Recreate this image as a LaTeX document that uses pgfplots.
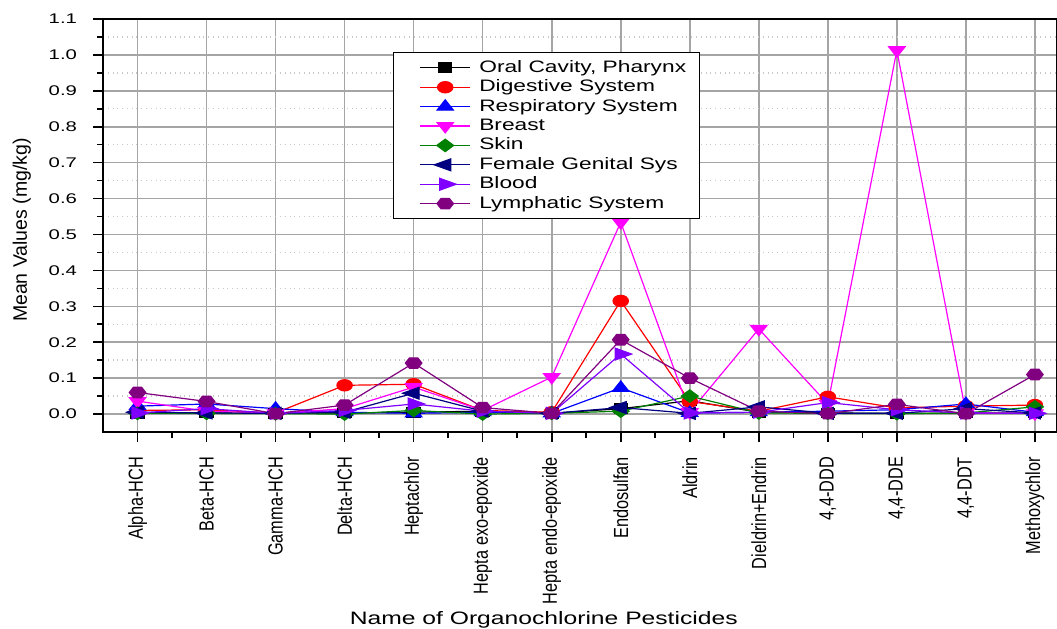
\documentclass[border=0pt]{standalone}
\usepackage{pgfplots}
\usepackage{pgfplotstable}
\pgfplotsset{compat=1.18}
\usepackage{fontspec}
\setmainfont{Liberation Sans}
\newfontfamily\hfont[FakeStretch=1.37]{Liberation Sans}
\newfontfamily\ytfont[FakeStretch=1.45]{Liberation Sans}
\newfontfamily\xtfont[FakeStretch=0.8]{Liberation Sans}

\definecolor{cgreen}{RGB}{0,128,0}
\definecolor{cnavy}{RGB}{0,0,128}
\definecolor{cviolet}{RGB}{128,0,255}
\definecolor{cpurple}{RGB}{128,0,128}
\definecolor{cmag}{RGB}{255,0,255}
\definecolor{gridgray}{RGB}{165,165,165}
\definecolor{mgridgray}{RGB}{200,200,200}

\pgfdeclareplotmark{hexagon*}{%
  \pgfpathmoveto{\pgfqpointpolar{0}{\pgfplotmarksize}}%
  \pgfpathlineto{\pgfqpointpolar{60}{\pgfplotmarksize}}%
  \pgfpathlineto{\pgfqpointpolar{120}{\pgfplotmarksize}}%
  \pgfpathlineto{\pgfqpointpolar{180}{\pgfplotmarksize}}%
  \pgfpathlineto{\pgfqpointpolar{240}{\pgfplotmarksize}}%
  \pgfpathlineto{\pgfqpointpolar{300}{\pgfplotmarksize}}%
  \pgfpathclose
  \pgfusepathqfillstroke}

\pgfplotstableread{
x oral dig resp breast skin fem blood lymph
0  0.002 0.010 0.022 0.036 0.002 0.005 0.003 0.060
1  0.003 0.012 0.028 0.008 0.002 0.003 0.015 0.035
2  0.002 0.003 0.015 0.002 0.001 0.002 0.002 0.001
3  0.003 0.080 0.005 0.015 0.000 0.005 0.010 0.025
4  0.005 0.083 0.002 0.075 0.010 0.058 0.028 0.142
5  0.008 0.010 0.005 0.010 0.000 0.008 0.008 0.018
6  0.002 0.005 0.002 0.103 0.002 0.002 0.002 0.002
7  0.015 0.315 0.073 0.534 0.008 0.018 0.167 0.207
8  0.037 0.035 0.003 0.005 0.050 0.002 0.003 0.100
9  0.005 0.008 0.005 0.237 0.003 0.020 0.005 0.008
10 0.003 0.048 0.008 0.028 0.002 0.002 0.032 0.001
11 0.002 0.017 0.012 1.013 0.001 0.002 0.012 0.027
12 0.003 0.022 0.028 0.003 0.003 0.015 0.003 0.001
13 0.003 0.025 0.005 0.002 0.020 0.003 0.002 0.110
}\datatable

\begin{document}
\begin{tikzpicture}
\begin{axis}[
  scale only axis,
  width=477bp, height=206.5bp,
  xmin=-0.5, xmax=13.32, ymin=-0.05, ymax=1.1,
  xtick={0,1,2,3,4,5,6,7,8,9,10,11,12,13},
  xticklabels={Alpha-HCH,Beta-HCH,Gamma-HCH,Delta-HCH,Heptachlor,Hepta exo-epoxide,Hepta endo-epoxide,Endosulfan,Aldrin,Dieldrin+Endrin,{4,4-DDD},{4,4-DDE},{4,4-DDT},Methoxychlor},
  ytick={0,0.1,0.2,0.3,0.4,0.5,0.6,0.7,0.8,0.9,1.0,1.1},
  minor x tick num=1, minor y tick num=1,
  tick align=outside, tick pos=left,
  major tick length=5bp, minor tick length=3bp,
  every tick/.style={black, line width=0.8bp},
  axis line style={black, line width=1bp},
  xmajorgrids, ymajorgrids, yminorgrids,
  major grid style={gridgray, line width=0.8bp},
  minor grid style={mgridgray, dotted, line width=0.7bp},
  /pgf/number format/assume math mode=true,
  yticklabel style={font=\ytfont\fontsize{7bp}{8bp}\selectfont, /pgf/number format/fixed, /pgf/number format/fixed zerofill, /pgf/number format/precision=1},
  yticklabel shift=4.5bp,
  xticklabel style={font=\xtfont\fontsize{10.2bp}{12bp}\selectfont, rotate=90, anchor=east},
  xticklabel shift=4bp,
  ylabel={Mean Values (mg/kg)},
  ylabel style={font=\fontsize{9.75bp}{11bp}\selectfont, at={(axis description cs:-0.085,0.489)}, anchor=center},
  xlabel={Name of Organochlorine Pesticides},
  xlabel style={font=\hfont\fontsize{9bp}{11bp}\selectfont, at={(axis description cs:0.462,-0.455)}, anchor=center},
  legend style={at={(axis description cs:0.304,0.920)}, anchor=north west, draw=black, line width=0.6bp,
    font=\hfont\fontsize{8.3bp}{9.8bp}\selectfont, inner xsep=5bp, inner ysep=3bp, row sep=0.5bp,
    nodes={inner ysep=0.5bp, inner xsep=1.75bp, text height=6.3bp, text depth=1.9bp}},
  legend cell align=left,
  legend image code/.code={%
    \path (-8bp,0bp) (27.5bp,0bp);
    \draw[mark repeat=2,mark phase=2,#1] plot coordinates {(0bp,0bp) (12.5bp,0bp) (25bp,0bp)};},
]
\addplot[black, line width=0.6bp, mark=square*, mark size=2.4bp, mark options={xscale=1.37}] table[x=x,y=oral] {\datatable};
\addlegendentry{Oral Cavity, Pharynx}
\addplot[red, line width=0.6bp, mark=*, mark size=2.8bp, mark options={xscale=1.37}] table[x=x,y=dig] {\datatable};
\addlegendentry{Digestive System}
\addplot[blue, line width=0.6bp, mark=triangle*, mark size=3.4bp, mark options={xscale=1.37}] table[x=x,y=resp] {\datatable};
\addlegendentry{Respiratory System}
\addplot[cmag, line width=0.6bp, mark=triangle*, mark size=3.4bp, mark options={xscale=1.37, rotate=180}] table[x=x,y=breast] {\datatable};
\addlegendentry{Breast}
\addplot[cgreen, line width=0.6bp, mark=diamond*, mark size=3.1bp, mark options={xscale=1.8}] table[x=x,y=skin] {\datatable};
\addlegendentry{Skin}
\addplot[cnavy, line width=0.6bp, mark=triangle*, mark size=3.4bp, mark options={xscale=1.6, rotate=90}] table[x=x,y=fem] {\datatable};
\addlegendentry{Female Genital Sys}
\addplot[cviolet, line width=0.6bp, mark=triangle*, mark size=3.4bp, mark options={xscale=1.6, rotate=-90}] table[x=x,y=blood] {\datatable};
\addlegendentry{Blood}
\addplot[cpurple, line width=0.6bp, mark=hexagon*, mark size=3bp, mark options={xscale=1.37}] table[x=x,y=lymph] {\datatable};
\addlegendentry{Lymphatic System}
\end{axis}
\path (current axis.south west) ++(-51.5bp,-98.5bp) coordinate (bl);
\path (current axis.north east) ++(0bp,9.5bp) coordinate (tr);
\pgfresetboundingbox
\path[use as bounding box] (bl) rectangle (tr);
\end{tikzpicture}
\end{document}
